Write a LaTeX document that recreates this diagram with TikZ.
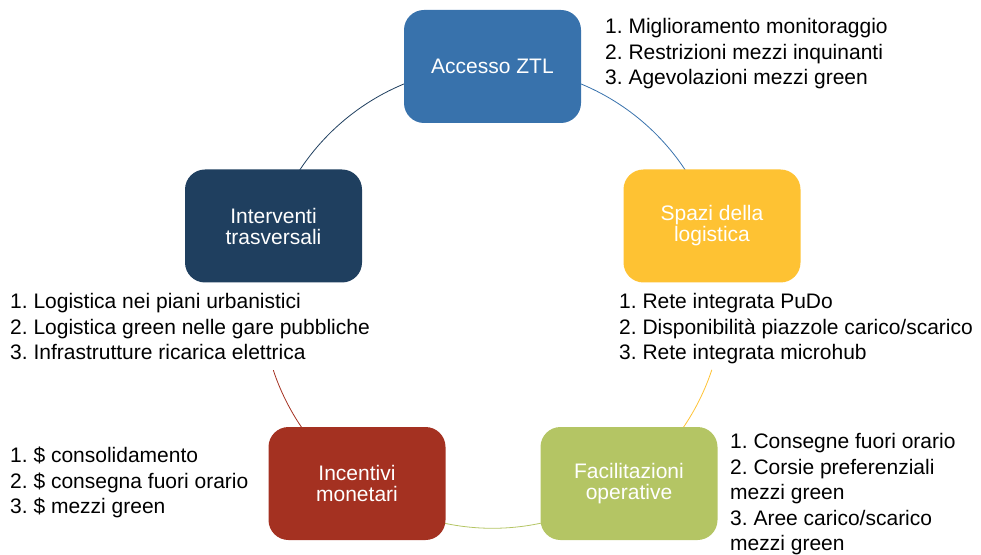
\documentclass[tikz,border=0pt]{standalone}
\usepackage{fontspec}
\setmainfont{Liberation Sans}
\frenchspacing
\definecolor{cztl}{HTML}{3872AC}
\definecolor{cspazi}{HTML}{FEC233}
\definecolor{cfacil}{HTML}{B4C564}
\definecolor{cincent}{HTML}{A43121}
\definecolor{cinterv}{HTML}{1F3F5F}
\begin{document}
\begin{tikzpicture}[x=1bp,y=-1bp,
  box/.style={rounded corners=20bp, minimum width=177bp, minimum height=113bp,
    text=white, align=center, inner sep=0pt,
    font=\fontsize{21bp}{21bp}\selectfont},
  lst/.style={anchor=north west, align=left, inner sep=0pt,
    font=\frenchspacing\fontsize{21bp}{25.6bp}\selectfont},
  ring/.style={line width=0.8bp}]
\useasboundingbox (0,0) rectangle (981,555);
\coordinate (O) at (492.5,297.3);
% ring arcs (image-space angles, y downwards)
\draw[ring, cztl]    plot[domain=-90:-18, samples=60] ({492.5+231*cos(\x)},{297.3+231*sin(\x)});
\draw[ring, cspazi]  plot[domain=18.3:54, samples=40] ({492.5+231*cos(\x)},{297.3+231*sin(\x)});
\draw[ring, cfacil]  plot[domain=54:126, samples=60] ({492.5+231*cos(\x)},{297.3+231*sin(\x)});
\draw[ring, cincent] plot[domain=126:161.6, samples=40] ({492.5+231*cos(\x)},{297.3+231*sin(\x)});
\draw[ring, cinterv] plot[domain=198:270, samples=60] ({492.5+231*cos(\x)},{297.3+231*sin(\x)});
% boxes
\node[box, fill=cztl]    (ztl)    at (492.5,66.5) {Accesso ZTL};
\node[box, fill=cspazi]  (spazi)  at (712,226)    {Spazi della\\logistica};
\node[box, fill=cfacil]  (facil)  at (629,483.5)  {Facilitazioni\\operative};
\node[box, fill=cincent] (incent) at (357,483.5)  {Incentivi\\monetari};
\node[box, fill=cinterv] (interv) at (273.5,226)  {Interventi\\trasversali};
% lists
\node[lst] (lztl) at (605,18) {1. Miglioramento monitoraggio\\2. Restrizioni mezzi inquinanti\\3. Agevolazioni mezzi green};
\node[lst] (lspazi) at (619,293) {1. Rete integrata PuDo\\2. Disponibilità piazzole carico/scarico\\3. Rete integrata microhub};
\node[lst] (linterv) at (10,293) {1. Logistica nei piani urbanistici\\2. Logistica green nelle gare pubbliche\\3. Infrastrutture ricarica elettrica};
\node[lst] (lincent) at (10,447) {1. \$ consolidamento\\2. \$ consegna fuori orario\\3. \$ mezzi green};
\node[lst] (lfacil) at (730,433) {1. Consegne fuori orario\\2. Corsie preferenziali\\mezzi green\\3. Aree carico/scarico\\mezzi green};
\end{tikzpicture}
\end{document}
